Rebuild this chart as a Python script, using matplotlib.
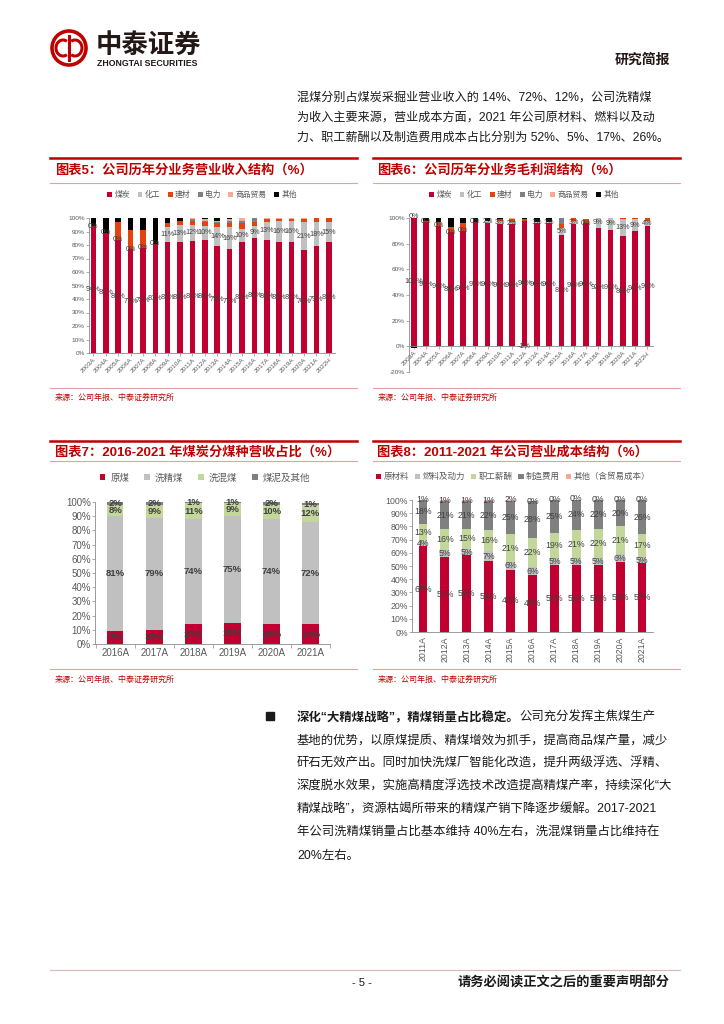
import numpy as np
import matplotlib
matplotlib.use("Agg")
import matplotlib.pyplot as plt
from matplotlib.patches import Circle, Arc, Rectangle
from matplotlib.lines import Line2D

plt.rcParams['font.family'] = ['Liberation Sans', 'Noto Sans CJK SC', 'DejaVu Sans']

# ---------------------------
# Data
# ---------------------------
years5 = ['2003A', '2004A', '2005A', '2006A', '2007A', '2008A', '2009A', '2010A', '2011A', '2012A',
          '2013A', '2014A', '2015A', '2016A', '2017A', '2018A', '2019A', '2020A', '2021A', '2022H']
names5 = ['煤炭', '化工', '建材', '电力', '商品贸易', '其他']
coal5 = [94, 89, 84, 77, 78, 81, 82, 82, 83, 84, 79, 77, 82, 85, 84, 82, 82, 76, 79, 82]
chem5 = [0, 0, 0, 0, 0, 0, 11, 13, 12, 10, 14, 16, 10, 9, 13, 16, 16, 21, 18, 15]
build5 = [0, 0, 13, 14, 13, 0, 3, 3, 3, 3, 3, 3, 4, 3, 2, 1, 1, 2, 3, 3]
power5 = [0, 0, 0, 0, 0, 0, 0, 0, 1, 1, 1, 2, 2, 3, 0, 0, 0, 0, 0, 0]
trade5 = [0, 0, 0, 0, 0, 0, 0, 0, 1, 1, 1, 1, 2, 0, 1, 1, 1, 1, 0, 0]
other5 = [6, 11, 3, 9, 9, 19, 4, 2, 0, 1, 2, 1, 0, 0, 0, 0, 0, 0, 0, 0]

coal6 = [101, 97, 94, 89, 90, 97, 96, 95, 95, 98, 96, 96, 87, 95, 96, 92, 91, 86, 90, 94]
chem6 = [0, 0, 0, 0, 0, 0, 2, 3, 2, -1, 1, 1, 5, 3, 0, 9, 9, 13, 9, 4]
build6 = [0, 1, 3, 4, 6, 0, 0, 1, 2, 1, 0, 0, 3, 2, 3, 0, 0, 1, 2, 3]
power6 = [0, 0, 0, 0, 0, 0, 0, 0, 0, 0, 0, 0, 5, 0, 0, 0, 0, 0, 0, 0]
trade6 = [0, 0, 0, 0, 0, 0, 0, 0, 1, 0, 0, 0, 0, 0, 0, 0, 0, 0, 0, 0]
other6 = [-1, 2, 3, 7, 4, 3, 2, 1, 0, 1, 3, 3, 0, 0, 0, 0, 0, 0, 0, 0]

years7 = ['2016A', '2017A', '2018A', '2019A', '2020A', '2021A']
names7 = ['原煤', '洗精煤', '洗混煤', '煤泥及其他']
raw7 = [9, 10, 14, 15, 14, 14]
washed7 = [81, 79, 74, 75, 74, 72]
mixed7 = [8, 9, 11, 9, 10, 12]
slime7 = [2, 2, 1, 1, 2, 1]

years8 = ['2011A', '2012A', '2013A', '2014A', '2015A', '2016A', '2017A', '2018A', '2019A', '2020A', '2021A']
names8 = ['原材料', '燃料及动力', '职工薪酬', '制造费用', '其他（含贸易成本）']
material8 = [65, 57, 58, 54, 47, 43, 51, 51, 51, 53, 52]
fuel8 = [4, 5, 5, 7, 6, 6, 5, 5, 5, 6, 5]
salary8 = [13, 16, 15, 16, 21, 22, 19, 21, 22, 21, 17]
manuf8 = [18, 21, 21, 22, 25, 28, 25, 24, 22, 20, 26]
other8 = [1, 1, 1, 1, 2, 0, 0, 0, 0, 0, 0]

RED = '#C00030'
LGREY = '#C0C0C0'
ORANGE = '#E2430F'
DGREY = '#808080'
PINK = '#F8A894'
GREEN = '#C4D79B'
TXT = '#404040'
LINE_RED = '#C00000'
LINE_PINK = '#E6A0A0'

W, H = 724, 1024
fig = plt.figure(figsize=(W / 100, H / 100), dpi=100)


def px_axes(x0, y0, x1, y1):
    return fig.add_axes([x0 / W, 1 - y1 / H, (x1 - x0) / W, (y1 - y0) / H])


def ftext(x, y, s, **kw):
    return fig.text(x / W, 1 - y / H, s, **kw)


def hline(y, x0, x1, color, lw):
    fig.add_artist(Line2D([x0 / W, x1 / W], [1 - y / H, 1 - y / H], color=color, lw=lw))


def stacked(ax, series, names, colors, width, label_idx, fs, bold=False):
    n = len(series[0])
    x = np.arange(n)
    pos = np.zeros(n)
    neg = np.zeros(n)
    for i, (vals, name, c) in enumerate(zip(series, names, colors)):
        v = np.array(vals, dtype=float)
        bottom = np.where(v >= 0, pos, neg)
        ax.bar(x, v, width, bottom=bottom, color=c, label=name, zorder=2)
        if i in label_idx:
            for xi, b, vi in zip(x, bottom, v):
                ax.text(xi, b + vi / 2, f"{vi:.0f}%", ha='center', va='center', fontsize=fs,
                        color=TXT, fontweight='bold' if bold else 'normal', zorder=3)
        pos = np.where(v >= 0, pos + v, pos)
        neg = np.where(v < 0, neg + v, neg)
    return x


def style_axes(ax, fs):
    for s in ['top', 'right']:
        ax.spines[s].set_visible(False)
    for s in ['left', 'bottom']:
        ax.spines[s].set_color('#8C8C8C')
        ax.spines[s].set_linewidth(0.6)
    ax.tick_params(axis='both', labelsize=fs, colors='#8C8C8C', labelcolor='#595959',
                   width=0.5, length=2, pad=1)
    ax.yaxis.set_major_formatter(matplotlib.ticker.FuncFormatter(lambda v, p: f"{v:.0f}%"))


# ---------------------------
# Header
# ---------------------------
hdr = fig.add_axes([0, 0, 1, 1], zorder=-1)
hdr.set_xlim(0, W)
hdr.set_ylim(H, 0)
hdr.axis('off')
hdr.add_patch(Circle((69, 48), 17, fill=False, ec=LINE_RED, lw=2.6))
hdr.add_patch(Arc((63, 48), 14, 16, theta1=60, theta2=300, ec=LINE_RED, lw=2.2))
hdr.add_patch(Arc((75, 48), 14, 16, theta1=-120, theta2=120, ec=LINE_RED, lw=2.2))
hdr.plot([69, 69], [36, 60], color=LINE_RED, lw=2.2)

ftext(96, 45, '中泰证券', fontsize=19, fontweight='bold', color='#231815', va='center',
      family=['Noto Sans CJK SC'])
ftext(97, 63, 'ZHONGTAI SECURITIES', fontsize=6.3, fontweight='bold', color='#231815', va='center')
ftext(670, 60, '研究简报', fontsize=10, fontweight='bold', color='#231815', va='center', ha='right')

para = ['混煤分别占煤炭采掘业营业收入的 14%、72%、12%，公司洗精煤',
        '为收入主要来源，营业成本方面，2021 年公司原材料、燃料以及动',
        '力、职工薪酬以及制造费用成本占比分别为 52%、5%、17%、26%。']
for i, line in enumerate(para):
    ftext(297, 98 + i * 20, line, fontsize=8.7, color='#1A1A1A', va='center')

# ---------------------------
# Section frames and titles
# ---------------------------
for (xa, xb) in [(50, 357), (373, 680)]:
    hline(158, xa, xb, LINE_RED, 1.8)
    hline(183, xa, xb, LINE_PINK, 0.8)
    hline(388, xa, xb, LINE_PINK, 0.8)
    hline(441, xa, xb, LINE_RED, 1.8)
    hline(461, xa, xb, LINE_PINK, 0.8)
    hline(669, xa, xb, LINE_PINK, 0.8)
    ftext(xa + 5, 398, '来源：公司年报、中泰证券研究所', fontsize=5.8, color=LINE_RED, va='center')
    ftext(xa + 5, 680, '来源：公司年报、中泰证券研究所', fontsize=5.8, color=LINE_RED, va='center')

title_kw = dict(fontsize=9.5, fontweight='bold', color=LINE_RED, va='center')
ftext(55, 170, '图表5：公司历年分业务营业收入结构（%）', **title_kw)
ftext(377, 170, '图表6：公司历年分业务毛利润结构（%）', **title_kw)
ftext(55, 452, '图表7：2016-2021 年煤炭分煤种营收占比（%）', **title_kw)
ftext(377, 452, '图表8：2011-2021 年公司营业成本结构（%）', **title_kw)

colors6 = [RED, LGREY, ORANGE, DGREY, PINK, 'black']
leg_small = dict(frameon=False, fontsize=5.6, handlelength=0.6, handleheight=0.6, handletextpad=0.3,
                 columnspacing=1.0, labelcolor='#595959', bbox_transform=fig.transFigure, loc='center')

# ---------------------------
# Chart 5
# ---------------------------
ax5 = px_axes(89, 218, 335, 353)
x5 = stacked(ax5, [coal5, chem5, build5, power5, trade5, other5], names5, colors6, 0.45, [0, 1], 5.2)
ax5.set_ylim(0, 100)
ax5.set_xlim(-0.35, 19.5)
ax5.set_yticks(range(0, 101, 10))
ax5.set_xticks(x5)
ax5.set_xticklabels(years5, rotation=45, ha='right', rotation_mode='anchor')
style_axes(ax5, 4.6)
ax5.legend(ncol=6, bbox_to_anchor=(202 / W, 1 - 195 / H), **leg_small)

# ---------------------------
# Chart 6
# ---------------------------
ax6 = px_axes(409, 218, 653, 372)
ax6.spines['bottom'].set_position(('data', 0))
x6 = stacked(ax6, [coal6, chem6, build6, power6, trade6, other6], names5, colors6, 0.45, [0, 1], 5.2)
ax6.set_ylim(-20, 100)
ax6.set_xlim(-0.4, 19.45)
ax6.set_yticks(range(-20, 101, 20))
ax6.set_xticks(x6)
ax6.set_xticklabels(years5, rotation=45, ha='right', rotation_mode='anchor')
style_axes(ax6, 4.6)
ax6.legend(ncol=6, bbox_to_anchor=(524 / W, 1 - 195 / H), **leg_small)

# ---------------------------
# Chart 7
# ---------------------------
ax7 = px_axes(95, 502, 330, 644)
x7 = stacked(ax7, [raw7, washed7, mixed7, slime7], names7, [RED, LGREY, GREEN, DGREY], 0.42,
             [0, 1, 2, 3], 6.8, bold=True)
ax7.set_ylim(0, 100)
ax7.set_xlim(-0.52, 5.4)
ax7.set_yticks(range(0, 101, 10))
ax7.set_xticks(x7)
ax7.set_xticklabels(years7)
style_axes(ax7, 7)
ax7.tick_params(axis='x', length=0, pad=3)
ax7.set_xticks(np.arange(-0.5, 6, 1), minor=True)
ax7.tick_params(axis='x', which='minor', length=3, color='#8C8C8C', width=0.5)
ax7.legend(ncol=4, loc='center', bbox_to_anchor=(205 / W, 1 - 478 / H), bbox_transform=fig.transFigure,
           frameon=False, fontsize=6.8, handlelength=0.6, handleheight=0.6, handletextpad=0.5,
           columnspacing=1.6, labelcolor='#595959')

# ---------------------------
# Chart 8
# ---------------------------
ax8 = px_axes(412, 500, 653, 632)
x8 = stacked(ax8, [material8, fuel8, salary8, manuf8, other8], names8, [RED, LGREY, GREEN, DGREY, PINK],
             0.4, [0, 1, 2, 3, 4], 6.3)
ax8.set_ylim(0, 100)
ax8.set_xlim(-0.5, 10.5)
ax8.set_yticks(range(0, 101, 10))
ax8.set_xticks(x8)
ax8.set_xticklabels(years8, rotation=90)
style_axes(ax8, 6.3)
ax8.tick_params(axis='x', length=0, pad=3)
ax8.legend(ncol=5, loc='center', bbox_to_anchor=(513 / W, 1 - 477 / H), bbox_transform=fig.transFigure,
           frameon=False, fontsize=6.1, handlelength=0.6, handleheight=0.6, handletextpad=0.3,
           columnspacing=0.7, labelcolor='#595959')

# ---------------------------
# Bullet paragraph
# ---------------------------
hdr.add_patch(Rectangle((266, 712), 8, 8, color='#1A1A1A'))
renderer = fig.canvas.get_renderer()
t0 = ftext(297, 718, '深化“大精煤战略”，精煤销量占比稳定。', fontsize=8.9, fontweight='bold',
           color='#1A1A1A', va='center')
bb = t0.get_window_extent(renderer)
ftext(bb.x1, 718, '公司充分发挥主焦煤生产', fontsize=8.9, color='#1A1A1A', va='center')
body = ['基地的优势，以原煤提质、精煤增效为抓手，提高商品煤产量，减少',
        '矸石无效产出。同时加快洗煤厂智能化改造，提升两级浮选、浮精、',
        '深度脱水效果，实施高精度浮选技术改造提高精煤产率，持续深化“大',
        '精煤战略”，资源枯竭所带来的精煤产销下降逐步缓解。2017-2021',
        '年公司洗精煤销量占比基本维持 40%左右，洗混煤销量占比维持在',
        '20%左右。']
for i, line in enumerate(body):
    ftext(297, 741 + i * 23, line, fontsize=8.9, color='#1A1A1A', va='center')

# ---------------------------
# Footer
# ---------------------------
hline(970, 50, 680, '#D9B8B8', 0.8)
ftext(362, 983, '- 5 -', fontsize=8, color='#1A1A1A', va='center', ha='center')
ftext(670, 983, '请务必阅读正文之后的重要声明部分', fontsize=9.5, fontweight='bold', color='#1A1A1A',
      va='center', ha='right')

fig.savefig('out.png', dpi=100)
